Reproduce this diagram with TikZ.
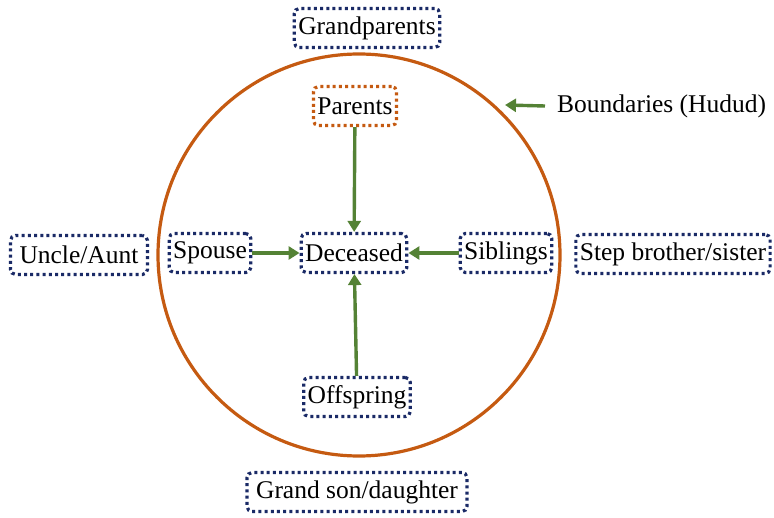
\documentclass[tikz,border=0pt]{standalone}
\usepackage{fontspec}
\setmainfont{Liberation Serif}
\usepackage{xcolor}
\usetikzlibrary{arrows.meta}

\definecolor{hududorange}{HTML}{C55A11}
\definecolor{boxblue}{HTML}{1A2A66}
\definecolor{linkgreen}{HTML}{548235}

\begin{document}
\begin{tikzpicture}[x=1pt, y=-1pt,
  every node/.style={font=\fontsize{25.5}{30}\selectfont, inner xsep=4pt, inner ysep=0pt, minimum height=39pt},
  kin/.style={draw=boxblue, line width=3.2pt, dash pattern=on 3pt off 3.2pt, rounded corners=5pt},
  link/.style={draw=linkgreen, line width=3.4pt, -{Triangle[length=11pt,width=13pt]}}]
\useasboundingbox (0,0) rectangle (774,518);

\draw[color=hududorange, line width=3.2pt] (359,255) circle (201);

\node(gp)[kin] at (367,28) {Grandparents};
\node(par)[kin, draw=hududorange] at (355,106) {Parents};
\node(dec)[kin] at (354,253) {Deceased};
\node(sp)[kin] at (210,253) {Spouse};
\node(ua)[kin, inner xsep=9pt] at (79,255) {Uncle/Aunt};
\node(sib)[kin] at (506,253) {Siblings};
\node(step)[kin] at (673,254) {Step brother/sister};
\node(off)[kin] at (357,397) {Offspring};
\node(gsd)[kin, inner xsep=9pt] at (357,492) {Grand son/daughter};

\node(hud)[anchor=west, inner xsep=0pt] at (557,106) {Boundaries (Hudud)};
\coordinate (rim) at (505,105);

\draw[link] (par) -- (dec);
\draw[link] (sp) -- (dec);
\draw[link] (sib) -- (dec);
\draw[link] (off) -- (dec);
\draw[link] ([xshift=-12pt]hud.west) -- (rim);
\end{tikzpicture}
\end{document}
